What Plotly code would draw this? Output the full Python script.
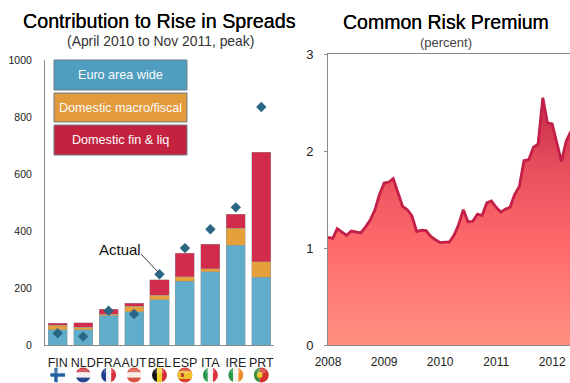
import base64
import pandas as pd
import plotly.graph_objects as go

W, H = 570, 383

# Contribution to the rise in spreads, basis points
countries = ["FIN", "NLD", "FRA", "AUT", "BEL", "ESP", "ITA", "IRE", "PRT"]
euro_wide = [54, 54, 103, 117, 159, 223, 257, 350, 237]
macro_fiscal = [16, 9, 5, 19, 15, 17, 10, 60, 55]
fin_liq = [7, 15, 18, 11, 55, 82, 86, 48, 385]
actual = [41, 30, 120, 109, 248, 340, 406, 483, 835]

# Common risk premium, percent, monthly from January 2008
premium = [
    1.11, 1.10, 1.20, 1.165, 1.13, 1.175, 1.165, 1.155, 1.215, 1.285, 1.39, 1.55,
    1.67, 1.68, 1.715, 1.565, 1.43, 1.395, 1.33, 1.17, 1.185, 1.18, 1.12, 1.085,
    1.055, 1.06, 1.06, 1.13, 1.24, 1.395, 1.27, 1.275, 1.35, 1.335, 1.465, 1.485,
    1.42, 1.37, 1.40, 1.42, 1.55, 1.635, 1.90, 1.91, 2.04, 2.07, 2.55, 2.29,
    2.28, 2.08, 1.89, 2.10, 2.20,
]
months = pd.date_range("2008-01-01", periods=len(premium), freq="MS")

legend_labels = ["Euro area wide", "Domestic macro/fiscal", "Domestic fin & liq"]
BLUE, ORANGE, RED = "#5FACCB", "#E5A03C", "#D22B4C"
BOX_COLORS = ["#4F9DBF", "#E29A3A", "#C4233F"]
DIAMOND = "#2C6685"
AXIS = "#8A8A8A"
FONT = "Liberation Sans"


def px(x):
    return x / W


def py(y):
    return 1 - y / H


def flag_uri(body):
    svg = (
        '<svg xmlns="http://www.w3.org/2000/svg" width="16" height="16" viewBox="0 0 16 16">'
        '<defs><clipPath id="c"><circle cx="8" cy="8" r="7.6"/></clipPath></defs>'
        f'<g clip-path="url(#c)">{body}</g>'
        '<ellipse cx="8" cy="4" rx="5" ry="2.6" fill="#fff" opacity="0.22"/>'
        "</svg>"
    )
    return "data:image/svg+xml;base64," + base64.b64encode(svg.encode()).decode()


def rect(x, y, w, h, color):
    return f'<rect x="{x}" y="{y}" width="{w}" height="{h}" fill="{color}"/>'


def vertical(a, b, c):
    return rect(0, 0, 5.4, 16, a) + rect(5.4, 0, 5.2, 16, b) + rect(10.6, 0, 5.4, 16, c)


def horizontal(a, b, c):
    return rect(0, 0, 16, 5.4, a) + rect(0, 5.4, 16, 5.2, b) + rect(0, 10.6, 16, 5.4, c)


flags = [
    rect(0, 0, 16, 16, "#f4f6f8") + rect(4.5, 0, 3.4, 16, "#1f5f9e") + rect(0, 6.3, 16, 3.4, "#1f5f9e"),
    horizontal("#c8303a", "#f6f0f0", "#27488f"),
    vertical("#23408f", "#f6f4f4", "#d8303a"),
    horizontal("#d9503f", "#f8eee8", "#d9503f"),
    vertical("#111111", "#f3cf2f", "#d8303a"),
    rect(0, 0, 16, 16, "#d6402c") + rect(0, 4, 16, 8, "#f2c12e") + rect(4, 6, 3, 4, "#b5432c"),
    vertical("#2c9a4b", "#f6f4f0", "#d8303a"),
    vertical("#2c9a4b", "#f6f4f0", "#ee8a2e"),
    rect(0, 0, 6.4, 16, "#3b8c3c") + rect(6.4, 0, 9.6, 16, "#d4322f")
    + '<circle cx="6.4" cy="8" r="3" fill="#f0c52e"/>',
]

fig = go.Figure()

for name, values, color in zip(legend_labels, [euro_wide, macro_fiscal, fin_liq], [BLUE, ORANGE, RED]):
    fig.add_bar(
        x=countries, y=values, name=name, xaxis="x", yaxis="y", width=0.75,
        marker=dict(color=color, line=dict(color="rgba(150,150,150,0.55)", width=0.8)),
    )

fig.add_scatter(
    x=countries, y=actual, mode="markers", name="Actual", xaxis="x", yaxis="y",
    marker=dict(symbol="diamond", size=8, color=DIAMOND),
)

fig.add_scatter(
    x=months, y=premium, mode="lines", name="Common risk premium", xaxis="x2", yaxis="y2",
    fill="tozeroy",
    fillgradient=dict(
        type="vertical",
        colorscale=[[0, "#FF9080"], [0.4, "#FF6B6B"], [0.7, "#E9505E"], [1, "#C62A4A"]],
    ),
    line=dict(color="#C41F48", width=2.8),
)

axis_font = dict(family=FONT, color="#222222")
fig.update_layout(
    width=W, height=H, margin=dict(l=0, r=0, t=0, b=0, autoexpand=False),
    paper_bgcolor="white", plot_bgcolor="white",
    barmode="stack", showlegend=False,
    xaxis=dict(
        domain=[px(45), px(274)], range=[-0.5, 8.5], type="category", anchor="y", automargin=False,
        showgrid=False, showline=True, linecolor=AXIS, linewidth=1, ticks="", tickangle=0,
        tickfont=dict(size=12.5, **axis_font), ticklabelstandoff=6,
    ),
    yaxis=dict(
        domain=[py(345), py(60)], range=[0, 1000], anchor="x", automargin=False,
        tickvals=[0, 200, 400, 600, 800, 1000],
        showgrid=False, showline=True, linecolor=AXIS, linewidth=1, ticks="", zeroline=False,
        tickfont=dict(size=10.5, **axis_font), ticklabelstandoff=10,
    ),
    xaxis2=dict(
        domain=[px(328), 1], range=["2008-01-01", "2012-04-26"], type="date", anchor="y2", automargin=False,
        dtick="M12", tickformat="%Y", tick0="2008-01-01",
        showgrid=False, showline=True, mirror=True, linecolor=AXIS, linewidth=1, ticks="",
        tickfont=dict(size=12, **axis_font), ticklabelstandoff=6,
    ),
    yaxis2=dict(
        domain=[py(345), py(54)], range=[0, 3], anchor="x2", automargin=False, tickvals=[0, 1, 2, 3],
        showgrid=False, showline=True, linecolor=AXIS, linewidth=1, ticks="outside", ticklen=3,
        tickcolor=AXIS, zeroline=False, tickfont=dict(size=13, **axis_font), ticklabelstandoff=8,
    ),
)


def text(x, y, s, size, color="#000000", shadow=None):
    fig.add_annotation(
        x=px(x), y=py(y), xref="paper", yref="paper", text=s, showarrow=False,
        xanchor="center", yanchor="middle",
        font=dict(family=FONT, size=size, color=color, shadow=shadow or "none"),
    )


# A faint same-colour halo gives the headings a slightly heavier stroke
text(159.5, 21, "Contribution to Rise in Spreads", 19.7, shadow="0 0 0.6px #000")
text(160, 41, "(April 2010 to Nov 2011, peak)", 13.9, "#333333")
text(446, 21.5, "Common Risk Premium", 19.5, shadow="0 0 0.6px #000")
text(446, 42, "(percent)", 13, "#444444")
text(120, 249, "Actual", 15, "#111111")

# Key boxes stacked inside the bar panel
boxes = [(60, 90), (93, 122), (125, 155)]
for label, color, (top, bottom) in zip(legend_labels, BOX_COLORS, boxes):
    fig.add_shape(
        type="rect", xref="paper", yref="paper", x0=px(54), x1=px(187), y0=py(top), y1=py(bottom),
        fillcolor=color, line=dict(color="#6F7F88", width=1),
    )
    text(120.5, (top + bottom) / 2, label, 12.6, "#FBFBFB")

# Leader from the "Actual" label to Belgium's marker
fig.add_shape(
    type="line", xref="paper", yref="paper", x0=px(141), y0=py(254), x1=px(158), y1=py(272),
    line=dict(color="#444444", width=1),
)

for country, body in zip(countries, flags):
    fig.add_layout_image(
        source=flag_uri(body), xref="x", yref="paper", x=country, y=py(375),
        sizex=0.62, sizey=16 / H, xanchor="center", yanchor="middle", sizing="contain", layer="above",
    )

fig.write_html("out.html", config={"displayModeBar": False})
